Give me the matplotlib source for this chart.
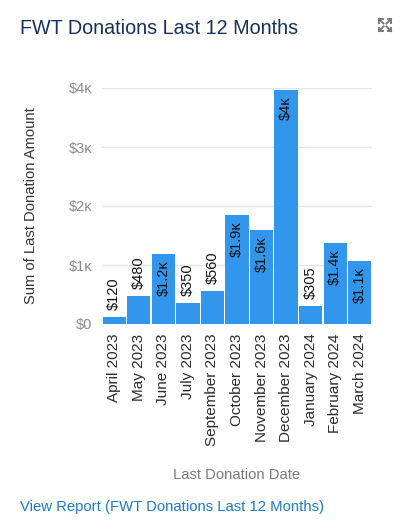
import matplotlib.pyplot as plt
from matplotlib.lines import Line2D

# data
months = ['April 2023', 'May 2023', 'June 2023', 'July 2023', 'September 2023',
          'October 2023', 'November 2023', 'December 2023', 'January 2024',
          'February 2024', 'March 2024']
amounts = [120, 480, 1190, 350, 560, 1850, 1600, 3960, 305, 1370, 1060]
bar_labels = ['$120', '$480', '$1.2ᴋ', '$350', '$560', '$1.9ᴋ', '$1.6ᴋ',
              '$4ᴋ', '$305', '$1.4ᴋ', '$1.1ᴋ']
y_ticks = [0, 1000, 2000, 3000, 4000]
y_tick_labels = ['$0', '$1ᴋ', '$2ᴋ', '$3ᴋ', '$4ᴋ']

plt.rcParams['font.family'] = ['Liberation Sans', 'DejaVu Sans']

W, H = 412, 530
fig = plt.figure(figsize=(W / 100, H / 100), dpi=100)
ax = fig.add_axes([102 / W, 1 - 324 / H, 270 / W, 236 / H])

x = list(range(len(months)))
ax.bar(x, amounts, width=0.95, color='#3296ed', zorder=2)
ax.set_xlim(-0.5, len(months) - 0.5)
ax.set_ylim(0, 4000)

ax.set_yticks(y_ticks)
ax.set_yticklabels(y_tick_labels, color='#8c8c8c', fontsize=10.5)
ax.set_xticks(x)
ax.set_xticklabels(months, rotation=90, color='#2b2b2b', fontsize=11)
ax.tick_params(length=0, pad=7)
ax.grid(axis='y', color='#e6e6e6', linewidth=1, zorder=0)
for s in ax.spines.values():
    s.set_visible(False)

# value labels: outside for short bars, inside for tall ones
for xi, v, lab in zip(x, amounts, bar_labels):
    if v > 1000:
        ax.annotate(lab, (xi, v), xytext=(0, -4.5), textcoords='offset points',
                    rotation=90, ha='center', va='top', fontsize=10.5, color='#111111')
    else:
        ax.annotate(lab, (xi, v), xytext=(0, 5), textcoords='offset points',
                    rotation=90, ha='center', va='bottom', fontsize=10.5, color='#111111')

ax.set_ylabel('Sum of Last Donation Amount', color='#333333', fontsize=10.6)
ax.yaxis.set_label_coords(-64 / 270, 0.5)
fig.text(237 / W, 1 - 475 / H, 'Last Donation Date', ha='center', va='center',
         color='#7a7a7a', fontsize=10.6)

fig.text(20 / W, 1 - 29 / H, 'FWT Donations Last 12 Months', ha='left', va='center',
         color='#16325c', fontsize=14.2)
fig.text(20 / W, 1 - 507 / H, 'View Report (FWT Donations Last 12 Months)',
         ha='left', va='center', color='#1a7bd0', fontsize=10.7)

# expand icon (four outward arrows)
cx, cy, r = 385, 25, 6
for dx, dy in [(-1, -1), (1, -1), (-1, 1), (1, 1)]:
    x0, y0 = cx + dx * 1.5, cy + dy * 1.5
    x1, y1 = cx + dx * r, cy + dy * r
    fig.add_artist(Line2D([x0 / W, x1 / W], [1 - y0 / H, 1 - y1 / H],
                          color='#7a7a7a', linewidth=1.4))
    fig.add_artist(Line2D([x1 / W, (x1 - dx * 3.5) / W], [1 - y1 / H, 1 - y1 / H],
                          color='#7a7a7a', linewidth=1.4))
    fig.add_artist(Line2D([x1 / W, x1 / W], [1 - y1 / H, 1 - (y1 - dy * 3.5) / H],
                          color='#7a7a7a', linewidth=1.4))

fig.savefig('out.png', dpi=100, facecolor='white')
